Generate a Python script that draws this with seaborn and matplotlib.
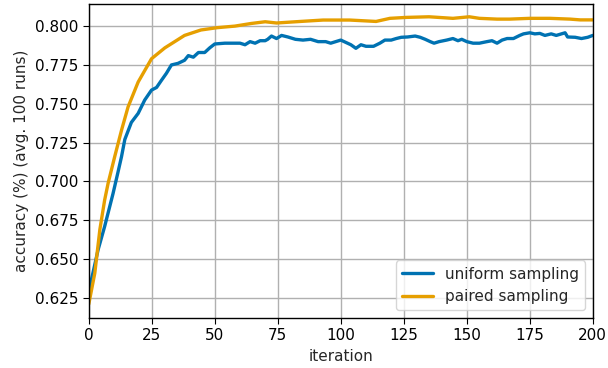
import pandas as pd
import matplotlib
matplotlib.use("Agg")
import matplotlib.pyplot as plt
import seaborn as sns

# values
uniform_iter = [0, 3.7, 6.3, 9.6, 11.6, 13, 14.3, 16.9, 19.6, 22.2, 24.9, 26.9, 28.8, 30.8, 32.8,
                35.4, 38, 39.5, 41.5, 43.5, 46, 48, 50, 54, 58, 60, 62, 64, 66, 68, 70, 71, 72.5,
                74.5, 76.5, 79, 82, 85, 88, 91, 94, 96, 98, 100, 102, 104, 106, 108, 110, 113,
                115.5, 117.5, 120, 122, 124, 126.5, 129.5, 131.5, 133.5, 135.5, 137, 139, 142,
                144.5, 146.5, 148, 150, 152.5, 155, 158, 160, 162, 164, 166, 168.5, 171, 172.5,
                175, 177, 179, 181, 183.5, 185.5, 189, 190, 193, 195.5, 198, 200]
uniform_acc = [0.629, 0.656, 0.671, 0.692, 0.706, 0.716, 0.727, 0.738, 0.7438, 0.7524, 0.7588,
               0.7605, 0.765, 0.7696, 0.775, 0.776, 0.778, 0.781, 0.780, 0.783, 0.783, 0.786,
               0.7885, 0.789, 0.789, 0.789, 0.788, 0.790, 0.789, 0.7906, 0.7906, 0.7915, 0.7936,
               0.792, 0.794, 0.793, 0.7915, 0.791, 0.7915, 0.790, 0.790, 0.789, 0.790, 0.791,
               0.7895, 0.788, 0.7857, 0.788, 0.787, 0.787, 0.789, 0.791, 0.791, 0.792, 0.7928,
               0.793, 0.7936, 0.7928, 0.7915, 0.790, 0.789, 0.790, 0.791, 0.792, 0.7906, 0.7915,
               0.790, 0.789, 0.789, 0.790, 0.7906, 0.789, 0.791, 0.792, 0.792, 0.794, 0.795,
               0.7957, 0.795, 0.7953, 0.794, 0.795, 0.794, 0.7957, 0.793, 0.7928, 0.792, 0.7928,
               0.794]

paired_iter = [0, 2.4, 4.4, 6.3, 7.7, 10.3, 13, 15.6, 19.6, 24.9, 30.2, 34.1, 38, 44.5, 51, 58,
               64.5, 70, 74.5, 84, 93, 103.5, 114, 119.5, 126, 135, 144.5, 151, 155, 162, 167,
               175, 183, 191, 195, 200]
paired_acc = [0.621, 0.641, 0.669, 0.688, 0.699, 0.716, 0.733, 0.748, 0.764, 0.779, 0.786,
              0.790, 0.794, 0.7975, 0.799, 0.800, 0.8017, 0.8028, 0.802, 0.803, 0.8039, 0.8039,
              0.803, 0.805, 0.8056, 0.806, 0.805, 0.806, 0.805, 0.8045, 0.8045, 0.805, 0.805,
              0.8045, 0.804, 0.804]

df = pd.concat([
    pd.DataFrame({"iteration": uniform_iter, "acc": uniform_acc, "method": "uniform sampling"}),
    pd.DataFrame({"iteration": paired_iter, "acc": paired_acc, "method": "paired sampling"}),
])

sns.set_style("ticks")
plt.rcParams["font.family"] = ["DejaVu Sans"]

fig, ax = plt.subplots(figsize=(6.08, 3.68), dpi=100)
fig.subplots_adjust(left=0.146, right=0.975, top=0.989, bottom=0.136)

sns.lineplot(data=df, x="iteration", y="acc", hue="method",
             palette=["#0072B2", "#E69F00"], linewidth=2.4, ax=ax)

ax.set_xlim(0, 200)
ax.set_ylim(0.6121, 0.8142)
ax.set_xticks(range(0, 201, 25))
ax.set_yticks([0.625, 0.65, 0.675, 0.7, 0.725, 0.75, 0.775, 0.8])
ax.yaxis.set_major_formatter(matplotlib.ticker.FormatStrFormatter("%.3f"))
ax.grid(True, color="#b0b0b0", linewidth=1)
ax.set_axisbelow(True)
for s in ax.spines.values():
    s.set_color("black")
    s.set_linewidth(1)
ax.tick_params(labelsize=11, colors="black", length=4)
ax.set_xlabel("iteration", fontsize=11)
ax.set_ylabel("accuracy (%) (avg. 100 runs)", fontsize=11)
ax.legend(loc="lower right", fontsize=11, title=None)

fig.savefig("out.png", dpi=100)
